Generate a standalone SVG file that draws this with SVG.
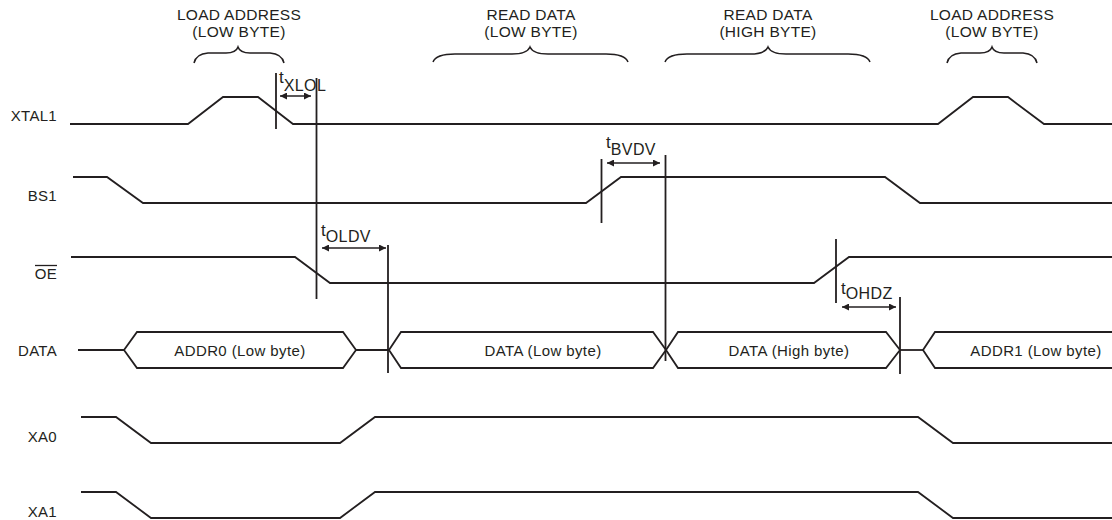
<svg xmlns="http://www.w3.org/2000/svg" width="1112" height="520" viewBox="0 0 1112 520">
<defs>
<marker id="ah" viewBox="0 0 10 10" refX="10" refY="5" markerWidth="9" markerHeight="7" markerUnits="userSpaceOnUse" orient="auto-start-reverse">
<path d="M0,0 L10,5 L0,10 Z" fill="#231f20"/>
</marker>
<style>
.sig{fill:none;stroke:#231f20;stroke-width:1.8;stroke-linejoin:miter}
.lbl{font-family:"Liberation Sans",Arial,sans-serif;font-size:15px;fill:#231f20;letter-spacing:0.3px}
.hdr{font-family:"Liberation Sans",Arial,sans-serif;font-size:15.5px;fill:#231f20;letter-spacing:0.3px;text-anchor:middle}
.hx{font-family:"Liberation Sans",Arial,sans-serif;font-size:15px;fill:#231f20;letter-spacing:0.4px;text-anchor:middle}
.tm{font-family:"Liberation Sans",Arial,sans-serif;font-size:17px;fill:#231f20}
.sub{font-size:16px;letter-spacing:0.4px}
.brace{fill:none;stroke:#231f20;stroke-width:1.5}
.vl{stroke:#231f20;stroke-width:1.8}
.arr{stroke:#231f20;stroke-width:1.5;marker-start:url(#ah);marker-end:url(#ah)}
</style>
</defs>
<rect width="1112" height="520" fill="#ffffff"/>

<g id="phases">
<text class="hdr" x="239" y="20">LOAD ADDRESS</text>
<text class="hdr" x="239" y="37">(LOW BYTE)</text>
<path class="brace" d="M194,63 Q196,54 208,53 L226,53 Q236,53 238,47 Q240,53 250,53 L270,53 Q282,54 284,63"/>
<text class="hdr" x="531" y="20">READ DATA</text>
<text class="hdr" x="531" y="37">(LOW BYTE)</text>
<path class="brace" d="M433,62 Q436,54 455,54 L512,54 Q527,54 530,47 Q533,54 548,54 L606,54 Q625,54 628,62"/>
<text class="hdr" x="768" y="20">READ DATA</text>
<text class="hdr" x="768" y="37">(HIGH BYTE)</text>
<path class="brace" d="M665,62 Q668,54 687,54 L750,54 Q765,54 768,47 Q771,54 786,54 L848,54 Q867,54 870,62"/>
<text class="hdr" x="992" y="20">LOAD ADDRESS</text>
<text class="hdr" x="992" y="37">(LOW BYTE)</text>
<path class="brace" d="M947,63 Q949,54 961,53 L980,53 Q990,53 992,47 Q994,53 1004,53 L1023,53 Q1035,54 1037,63"/>
</g>

<g id="xtal1">
<text class="lbl" x="57" y="121" text-anchor="end">XTAL1</text>
<path class="sig" d="M70,124 L188,124 L223,97 L258,97 L293,124 L938,124 L973,97 L1008,97 L1044,124 L1112,124"/>
</g>

<g id="bs1">
<text class="lbl" x="57" y="201" text-anchor="end">BS1</text>
<path class="sig" d="M73,177 L107,177 L143,203 L586,203 L621,177 L885,177 L920,203 L1112,203"/>
</g>

<g id="oe">
<text class="lbl" x="57" y="279" text-anchor="end">OE</text>
<line x1="35" y1="265.5" x2="57" y2="265.5" stroke="#231f20" stroke-width="1.3"/>
<path class="sig" d="M71,257 L295,257 L330,283 L814,283 L849,257 L1112,257"/>
</g>

<g id="data">
<text class="lbl" x="57" y="356" text-anchor="end">DATA</text>
<path class="sig" d="M78,350 L124,350"/>
<path class="sig" d="M124,350 L137,332 L343,332 L356,350 L343,368 L137,368 Z"/>
<text class="hx" x="240" y="356">ADDR0 (Low byte)</text>
<path class="sig" d="M356,350 L389,350"/>
<path class="sig" d="M389,350 L401,332 L653,332 L666,350 L653,368 L401,368 Z"/>
<text class="hx" x="543" y="356">DATA (Low byte)</text>
<path class="sig" d="M666,350 L678,332 L886,332 L900,350 L886,368 L678,368 Z"/>
<text class="hx" x="789" y="356">DATA (High byte)</text>
<path class="sig" d="M900,350 L923,350"/>
<path class="sig" d="M1114,332 L935,332 L923,350 L935,368 L1114,368"/>
<text class="hx" x="1036" y="356">ADDR1 (Low byte)</text>
</g>

<g id="xa0">
<text class="lbl" x="57" y="442" text-anchor="end">XA0</text>
<path class="sig" d="M81,417 L116,417 L151,443 L340,443 L375,417 L918,417 L953,443 L1112,443"/>
</g>

<g id="xa1">
<text class="lbl" x="57" y="517" text-anchor="end">XA1</text>
<path class="sig" d="M81,492 L116,492 L151,518 L340,518 L375,492 L918,492 L953,518 L1112,518"/>
</g>

<g id="connectors">
<line class="vl" x1="276" y1="73" x2="276" y2="129"/>
<line class="vl" x1="316.5" y1="78" x2="316.5" y2="299"/>
<line class="vl" x1="388" y1="245" x2="388" y2="373"/>
<line class="vl" x1="601.5" y1="159" x2="601.5" y2="223"/>
<line class="vl" x1="665.5" y1="155" x2="665.5" y2="361"/>
<line class="vl" x1="836" y1="239" x2="836" y2="303"/>
<line class="vl" x1="900" y1="297" x2="900" y2="374"/>
<line class="arr" x1="280" y1="96" x2="311" y2="96"/>
<line class="arr" x1="322" y1="248" x2="386" y2="248"/>
<line class="arr" x1="607" y1="163" x2="660" y2="163"/>
<line class="arr" x1="842" y1="307" x2="896" y2="307"/>
<text class="tm" x="279" y="83">t<tspan class="sub" dy="8">XLOL</tspan></text>
<text class="tm" x="321" y="236">t<tspan class="sub" dy="6">OLDV</tspan></text>
<text class="tm" x="606" y="148">t<tspan class="sub" dy="7">BVDV</tspan></text>
<text class="tm" x="841" y="294">t<tspan class="sub" dy="5">OHDZ</tspan></text>
</g>
</svg>
